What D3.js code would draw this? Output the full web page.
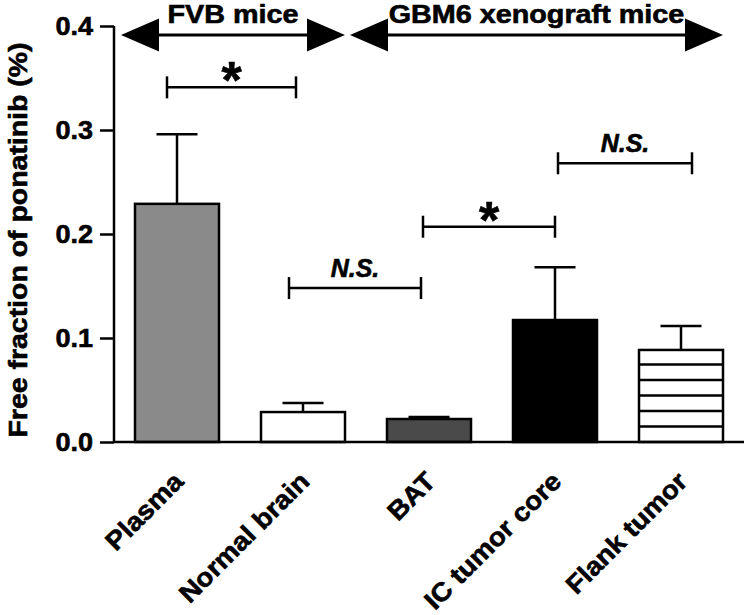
<!DOCTYPE html>
<html>
<head>
<meta charset="utf-8">
<script src="https://cdn.jsdelivr.net/npm/d3@7"></script>
<style>
  html, body { margin: 0; padding: 0; background: #fff; }
  svg { display: block; }
  text { font-family: "Liberation Sans", Arial, Helvetica, sans-serif; font-weight: bold; fill: #000; stroke: #000; stroke-width: 0.6px; }
</style>
</head>
<body>
<svg id="chart" width="749" height="615"></svg>
<script>
// ---------------- data ----------------
const categories = ["Plasma", "Normal brain", "BAT", "IC tumor core", "Flank tumor"];
const means = [0.229, 0.0288, 0.0221, 0.1173, 0.0885];
const errors = [0.067, 0.0087, 0.0019, 0.0507, 0.023];
const yTicks = [0.0, 0.1, 0.2, 0.3, 0.4];
const yTickLabels = ["0.0", "0.1", "0.2", "0.3", "0.4"];
const yLabel = "Free fraction of ponatinib (%)";

// significance comparisons
const compFrom = ["Plasma", "Normal brain", "BAT", "IC tumor core"];
const compTo = ["Normal brain", "BAT", "IC tumor core", "Flank tumor"];
const compLevel = [0.341, 0.148, 0.207, 0.268];
const compLabel = ["*", "N.S.", "*", "N.S."];

// group headers
const groupNames = ["FVB mice", "GBM6 xenograft mice"];
const groupFrom = ["Plasma", "BAT"];
const groupTo = ["Normal brain", "Flank tumor"];

// ---------------- style / layout ----------------
const fills = ["#8a8a8a", "#ffffff", "#4a4a4a", "#000000", "#ffffff"];
const striped = [false, false, false, false, true];
const compOffsets = [[-10, -7], [-14, -8], [-6, 0], [3, 11]];
const groupOffsets = [[-14, 0], [-37, 0]];

const svg = d3.select("#chart");
const x = d3.scaleBand().domain(categories).range([114, 744]).paddingInner(1/3).paddingOuter(1/6);
const y = d3.scaleLinear().domain([0, 0.4]).range([442, 26]);
const bw = x.bandwidth();
const cx = c => x(c) + bw / 2;

function stretch(sel, f) {
  sel.each(function() {
    const L = this.getComputedTextLength();
    d3.select(this).attr("textLength", L * f).attr("lengthAdjust", "spacingAndGlyphs");
  });
}
function fitTo(sel, len) {
  sel.attr("textLength", len).attr("lengthAdjust", "spacingAndGlyphs");
}

// bars
const g = svg.append("g");
categories.forEach((c, i) => {
  g.append("rect")
    .attr("x", x(c)).attr("y", y(means[i]))
    .attr("width", bw).attr("height", y(0) - y(means[i]))
    .attr("fill", fills[i]).attr("stroke", "#000").attr("stroke-width", 2.5);
  if (striped[i]) {
    const step = 15.5;
    for (let yy = y(0) - step; yy > y(means[i]) + 3; yy -= step) {
      g.append("line").attr("x1", x(c)).attr("x2", x(c) + bw)
        .attr("y1", yy).attr("y2", yy).attr("stroke", "#000").attr("stroke-width", 2.5);
    }
  }
  const top = y(means[i] + errors[i]);
  g.append("line").attr("x1", cx(c)).attr("x2", cx(c)).attr("y1", y(means[i])).attr("y2", top)
    .attr("stroke", "#000").attr("stroke-width", 2.5);
  g.append("line").attr("x1", cx(c) - 20.5).attr("x2", cx(c) + 20.5).attr("y1", top).attr("y2", top)
    .attr("stroke", "#000").attr("stroke-width", 2.5);
});

// axes
const yAxis = d3.axisLeft(y).tickValues(yTicks).tickFormat((d, i) => yTickLabels[i]).tickSize(14).tickPadding(7);
const ya = svg.append("g").attr("transform", "translate(114,0)").call(yAxis);
ya.select(".domain").attr("stroke", "#000").attr("stroke-width", 2.5).attr("d", `M0,${y(0.4)}V${y(0)}`);
ya.selectAll(".tick line").attr("stroke", "#000").attr("stroke-width", 2.5);
ya.selectAll(".tick text").attr("font-size", 26).attr("font-family", null).attr("dy", "0.34em");
stretch(ya.selectAll(".tick text"), 1.04);

const xAxis = d3.axisBottom(x).tickSize(0).tickPadding(0);
const xa = svg.append("g").attr("transform", `translate(0,${y(0)})`).call(xAxis);
xa.select(".domain").attr("stroke", "#000").attr("stroke-width", 2.5).attr("d", `M114,0H744`);
xa.selectAll(".tick text")
  .attr("font-size", 26).attr("font-family", null)
  .attr("text-anchor", "end")
  .attr("y", 0).attr("dy", 0)
  .attr("transform", "translate(8,41) rotate(-45)");
stretch(xa.selectAll(".tick text"), 1.07);

// y label
const yl = svg.append("text")
  .attr("transform", "translate(27,240) rotate(-90)")
  .attr("text-anchor", "middle").attr("font-size", 26).text(yLabel);
fitTo(yl, 395);

// comparisons
compFrom.forEach((f, i) => {
  const x1 = cx(f) + compOffsets[i][0], x2 = cx(compTo[i]) + compOffsets[i][1], yy = y(compLevel[i]);
  const b = svg.append("g").attr("stroke", "#000").attr("stroke-width", 2.5);
  b.append("line").attr("x1", x1).attr("x2", x2).attr("y1", yy).attr("y2", yy);
  b.append("line").attr("x1", x1).attr("x2", x1).attr("y1", yy - 11).attr("y2", yy + 11);
  b.append("line").attr("x1", x2).attr("x2", x2).attr("y1", yy - 11).attr("y2", yy + 11);
  if (compLabel[i] === "*") {
    svg.append("text").attr("x", (x1 + x2) / 2).attr("y", yy + 11)
      .attr("text-anchor", "middle").attr("font-size", 52).text("*");
  } else {
    svg.append("text").attr("x", (x1 + x2) / 2).attr("y", yy - 11)
      .attr("text-anchor", "middle").attr("font-size", 25).attr("font-style", "italic").text(compLabel[i]);
  }
});

// group arrows
groupNames.forEach((nm, i) => {
  const x1 = x(groupFrom[i]) + groupOffsets[i][0];
  const x2 = x(groupTo[i]) + bw + groupOffsets[i][1];
  const ay = 35, hl = 38, hh = 16.5;
  svg.append("line").attr("x1", x1 + 10).attr("x2", x2 - 10).attr("y1", ay).attr("y2", ay)
    .attr("stroke", "#000").attr("stroke-width", 3.2);
  svg.append("path").attr("d", `M${x1},${ay}L${x1 + hl},${ay - hh}L${x1 + hl},${ay + hh}Z`).attr("fill", "#000");
  svg.append("path").attr("d", `M${x2},${ay}L${x2 - hl},${ay - hh}L${x2 - hl},${ay + hh}Z`).attr("fill", "#000");
  const t = svg.append("text").attr("x", (x1 + x2) / 2).attr("y", 23)
    .attr("text-anchor", "middle").attr("font-size", 25).text(nm);
  stretch(t, 1.15);
});
</script>
</body>
</html>
